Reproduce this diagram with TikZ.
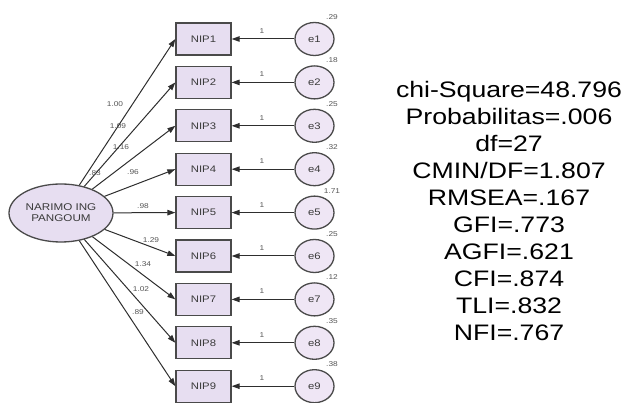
\documentclass[tikz,border=0pt]{standalone}
\usepackage{fontspec}
\setmainfont{Liberation Sans}
\newfontfamily\amos[FakeStretch=1.19]{Liberation Sans}
\usetikzlibrary{arrows.meta,shapes.geometric}
\definecolor{linec}{HTML}{2E2E2E}
\definecolor{bordc}{HTML}{4A4A4A}
\definecolor{boxfill}{HTML}{E7DEF1}
\definecolor{errfill}{HTML}{EFE6F5}
\definecolor{txtc}{HTML}{3A3A3A}
\definecolor{lblc}{HTML}{555555}
\tikzset{
  obsbox/.style={draw=bordc,line width=1.3pt,fill=boxfill,minimum width=55pt,minimum height=32pt,inner sep=0pt,
    font=\amos\fontsize{9.5}{11}\selectfont,text=txtc},
  errnode/.style={ellipse,draw=bordc,line width=1.3pt,fill=errfill,minimum width=39pt,minimum height=33pt,inner sep=0pt,
    font=\amos\fontsize{9.5}{11}\selectfont,text=txtc},
  latnode/.style={ellipse,draw=bordc,line width=1.3pt,fill=boxfill,minimum width=104pt,minimum height=58pt,inner sep=0pt,
    align=center,font=\amos\fontsize{9.8}{11}\selectfont,text=txtc},
  path/.style={draw=linec,line width=1pt,-{Triangle[length=8pt,width=5.5pt]}},
  small/.style={font=\amos\fontsize{7}{8}\selectfont,text=lblc,inner sep=0pt},
  stat/.style={font=\amos\fontsize{22.4}{27}\selectfont,text=black,anchor=base,inner sep=0pt}
}
\begin{document}
\begin{tikzpicture}[x=1pt,y=-1pt]
\useasboundingbox (0,0) rectangle (625,403);
\node[latnode] (lat) at (61,213) {NARIMO ING\\PANGOUM};
\foreach \i/\v in {1/.29,2/.18,3/.25,4/.32,5/1.71,6/.25,7/.12,8/.35,9/.38}{
  \pgfmathsetmacro{\cy}{39+(\i-1)*43.4}
  \node[obsbox] (n\i) at (203.5,\cy) {NIP\i};
  \node[errnode] (e\i) at (314.5,\cy) {e\i};
  \draw[path] (e\i) -- (n\i);
  \draw[path] (lat) -- (n\i.west);
  \node[small] (one\i) at (262,\cy-8) {1};
  \node[small] (var\i) at (332,\cy-22) {\v};
}
\node[small] (l1) at (115,104) {1.00};
\node[small] (l2) at (118,126) {1.09};
\node[small] (l3) at (121,147) {1.16};
\node[small] (l4a) at (95,173) {.83};
\node[small] (l4) at (133,172) {.96};
\node[small] (l5) at (143,206) {.98};
\node[small] (l6) at (151,240) {1.29};
\node[small] (l7) at (143,264) {1.34};
\node[small] (l8) at (141,289) {1.02};
\node[small] (l9) at (138,312) {.89};
\foreach \t [count=\k from 0] in {chi-Square=48.796,Probabilitas=.006,df=27,CMIN/DF=1.807,RMSEA=.167,GFI=.773,AGFI=.621,CFI=.874,TLI=.832,NFI=.767}{
  \node[stat] (s\k) at (509,98+27*\k) {\t};
}
\end{tikzpicture}
\end{document}
